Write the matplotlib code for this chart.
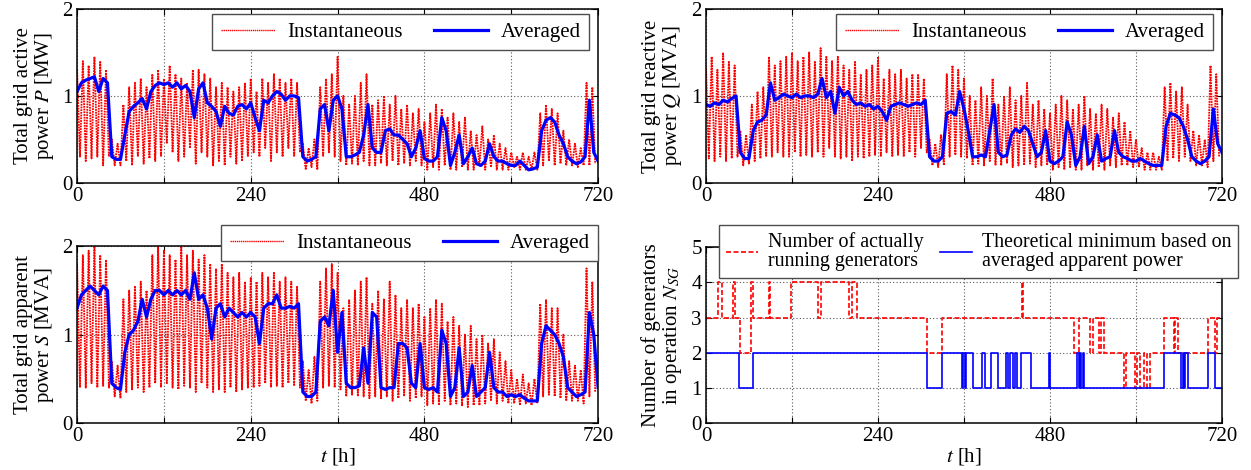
import matplotlib
matplotlib.use("Agg")
import matplotlib.pyplot as plt
import numpy as np

plt.rcParams['font.family'] = ['Liberation Serif', 'DejaVu Serif']
plt.rcParams['mathtext.fontset'] = 'stix'
plt.rcParams['font.size'] = 13

# ---- data (hours, MW / MVA) ----
AVG_STEP = 6     # averaged series sampled every 6 h
INST_STEP = 8    # instantaneous peaks / troughs every 8 h

P_avg = [1.05, 1.15, 1.18, 1.2, 1.22, 1.05, 1.2, 1.15, 0.3, 0.27, 0.27, 0.55, 0.82, 0.88, 0.92, 0.97,
         0.85, 1.05, 1.12, 1.15, 1.13, 1.15, 1.1, 1.15, 1.08, 1.12, 1.05, 0.75, 1.08, 1.15, 0.92, 0.88,
         0.82, 0.65, 0.88, 0.8, 0.78, 0.88, 0.9, 0.85, 0.92, 0.75, 0.6, 0.95, 0.92, 1.0, 1.05, 1.02,
         0.95, 1.0, 1.0, 0.98, 0.3, 0.25, 0.27, 0.3, 0.85, 0.9, 0.6, 0.95, 1.0, 0.85, 0.3, 0.3,
         0.32, 0.35, 0.55, 0.9, 0.4, 0.35, 0.35, 0.6, 0.62, 0.55, 0.55, 0.5, 0.45, 0.3, 0.4, 0.6,
         0.28, 0.25, 0.25, 0.3, 0.75, 0.6, 0.2, 0.35, 0.55, 0.22, 0.3, 0.4, 0.22, 0.2, 0.25, 0.45,
         0.3, 0.25, 0.25, 0.22, 0.2, 0.2, 0.25, 0.2, 0.15, 0.16, 0.18, 0.6, 0.72, 0.75, 0.7, 0.55,
         0.45, 0.3, 0.25, 0.22, 0.24, 0.3, 0.95, 0.35, 0.25]
P_hi = [1.3, 1.4, 1.35, 1.45, 1.4, 1.3,
        0.5, 0.45,
        0.9, 1.1, 1.15, 1.2, 1.1, 1.25,
        1.3, 1.2, 1.35, 1.25, 1.2, 1.15, 1.3, 1.3, 1.25,
        1.2, 1.1, 1.15, 1.1, 1.05, 1.1, 1.15,
        1.2, 1.05, 1.2, 1.15, 1.25, 1.2, 1.15, 1.2, 1.15,
        0.45, 0.4, 0.5,
        1.1, 1.2, 1.25, 1.45,
        1.0, 0.9, 1.0, 1.15, 1.25,
        0.9, 0.95, 1.0, 0.9, 1.0, 0.85, 0.9, 0.8, 0.85,
        0.7, 0.8, 0.9, 0.85, 0.75, 0.8, 0.7, 0.75, 0.6, 0.55,
        0.65, 0.5, 0.55, 0.45, 0.4, 0.35, 0.3, 0.35, 0.3, 0.35,
        0.8, 0.9, 0.85, 0.8, 0.6, 0.5, 0.45, 0.4,
        1.15, 1.1]
P_lo = [0.3, 0.25, 0.28, 0.3, 0.2, 0.3,
        0.2, 0.2,
        0.25, 0.2, 0.3, 0.22, 0.28, 0.25,
        0.3, 0.45, 0.35, 0.25, 0.3, 0.4, 0.22, 0.35, 0.3,
        0.2, 0.25, 0.2, 0.3, 0.22, 0.25, 0.3,
        0.35, 0.3, 0.4, 0.25, 0.35, 0.3, 0.4, 0.3, 0.35,
        0.15, 0.18, 0.15,
        0.3, 0.35, 0.3, 0.25,
        0.2, 0.22, 0.2, 0.25, 0.2,
        0.2, 0.22, 0.2, 0.25, 0.2, 0.22, 0.2, 0.25, 0.2,
        0.15, 0.18, 0.15, 0.2, 0.15, 0.15, 0.18, 0.15, 0.15, 0.2,
        0.15, 0.18, 0.15, 0.15, 0.15, 0.18, 0.15, 0.15, 0.15, 0.15,
        0.2, 0.25, 0.2, 0.22, 0.2, 0.2, 0.18, 0.2,
        0.2, 0.22]

Q_avg = [0.9, 0.88, 0.92, 0.9, 0.95, 0.93, 0.97, 1.0, 0.35, 0.28, 0.28, 0.6, 0.7, 0.72, 0.78, 1.15,
         0.95, 0.98, 1.02, 1.0, 0.98, 1.02, 0.98, 1.0, 1.0, 0.98, 1.02, 1.2, 0.98, 1.05, 0.8, 1.1,
         1.0, 1.05, 0.95, 0.9, 0.92, 0.88, 0.9, 0.85, 0.88, 0.82, 0.72, 0.88, 0.9, 0.92, 0.9, 0.88,
         0.9, 0.92, 0.9, 0.95, 0.3, 0.25, 0.25, 0.3, 0.8, 0.82, 0.78, 1.05, 0.85, 0.6, 0.3, 0.3,
         0.32, 0.3, 0.6, 0.9, 0.35, 0.3, 0.32, 0.55, 0.62, 0.58, 0.65, 0.6, 0.45, 0.3, 0.35, 0.6,
         0.25, 0.22, 0.25, 0.3, 0.7, 0.55, 0.2, 0.3, 0.65, 0.22, 0.3, 0.55, 0.25, 0.28, 0.3, 0.6,
         0.35, 0.3, 0.28, 0.25, 0.25, 0.28, 0.25, 0.22, 0.2, 0.2, 0.2, 0.65, 0.8, 0.78, 0.75, 0.65,
         0.5, 0.3, 0.25, 0.22, 0.25, 0.3, 0.85, 0.45, 0.35]
Q_hi = [1.35, 1.45, 1.3, 1.5, 1.4, 1.35,
        0.6, 0.55,
        0.9, 1.05, 1.1, 1.45, 1.35, 1.4,
        1.45, 1.5, 1.4, 1.45, 1.5, 1.4, 1.55, 1.45, 1.4,
        1.45, 1.35, 1.3, 1.4, 1.25, 1.3, 1.35,
        1.45, 1.2, 1.3, 1.25, 1.3, 1.2, 1.25, 1.25, 1.2,
        0.5, 0.45, 0.55,
        1.25, 1.35, 1.3, 1.2,
        1.0, 0.95, 1.1, 1.0, 1.2,
        0.9, 1.0, 1.1, 0.95, 1.0, 1.15, 0.9, 0.95, 0.85,
        0.8, 0.9, 1.0, 0.95, 0.85, 0.9, 1.0, 0.85, 0.8, 0.9,
        0.85, 0.75, 0.8, 0.7, 0.6, 0.5, 0.4, 0.35, 0.35, 0.3,
        1.1, 1.15, 1.05, 1.1, 0.9, 0.6, 0.55, 0.5,
        1.35, 1.25]
Q_lo = [0.28, 0.25, 0.3, 0.25, 0.28, 0.3,
        0.2, 0.22,
        0.25, 0.28, 0.3, 0.3, 0.35, 0.3,
        0.3, 0.35, 0.3, 0.32, 0.3, 0.35, 0.3, 0.4, 0.3,
        0.28, 0.3, 0.25, 0.3, 0.28, 0.3, 0.32,
        0.3, 0.35, 0.3, 0.32, 0.3, 0.35, 0.3, 0.4, 0.35,
        0.2, 0.18, 0.2,
        0.3, 0.32, 0.3, 0.28,
        0.2, 0.22, 0.2, 0.25, 0.2,
        0.2, 0.22, 0.18, 0.2, 0.2, 0.22, 0.18, 0.2, 0.2,
        0.15, 0.18, 0.15, 0.18, 0.15, 0.15, 0.2, 0.15, 0.18, 0.15,
        0.2, 0.18, 0.2, 0.2, 0.18, 0.18, 0.15, 0.15, 0.15, 0.15,
        0.25, 0.28, 0.25, 0.3, 0.25, 0.2, 0.2, 0.18,
        0.25, 0.3]

S_avg = [1.3, 1.45, 1.5, 1.55, 1.5, 1.45, 1.55, 1.5, 0.45, 0.4, 0.38, 0.8, 1.0, 1.05, 1.15, 1.4,
         1.2, 1.4, 1.5, 1.5, 1.45, 1.5, 1.45, 1.5, 1.45, 1.5, 1.4, 1.7, 1.4, 1.45, 1.3, 0.95,
         1.3, 1.35, 1.2, 1.3, 1.25, 1.2, 1.25, 1.2, 1.25, 1.2, 0.9, 1.3, 1.35, 1.35, 1.45, 1.3,
         1.3, 1.32, 1.3, 1.35, 0.35, 0.3, 0.3, 0.35, 1.15, 1.2, 1.1, 1.5, 0.8, 1.25, 0.45, 0.4,
         0.4, 0.42, 0.85, 0.45, 1.25, 1.2, 0.4, 0.38, 0.4, 0.4, 0.9, 0.9, 0.85, 0.45, 0.4, 0.9,
         0.4, 0.38, 0.4, 0.35, 1.05, 0.9, 0.3, 0.4, 0.85, 0.3, 0.35, 0.65, 0.3, 0.35, 0.4, 0.8,
         0.4, 0.35, 0.35, 0.3, 0.32, 0.3, 0.32, 0.28, 0.25, 0.25, 0.25, 0.9, 1.1, 1.05, 1.0, 0.9,
         0.75, 0.4, 0.35, 0.3, 0.32, 0.35, 1.25, 1.0, 0.4]
S_hi = [1.8, 1.9, 1.95, 2.0, 1.9, 1.85,
        0.7, 0.65,
        1.4, 1.5, 1.55, 1.6, 1.5, 1.9,
        2.0, 1.95, 1.9, 1.85, 2.0, 1.9, 1.95, 1.85, 1.9,
        1.8, 1.75, 1.8, 1.7, 1.65, 1.7, 1.6,
        1.65, 1.6, 1.7, 1.65, 1.7, 1.6, 1.65, 1.6, 1.55,
        0.7, 0.6, 0.75,
        1.6, 1.75, 1.8, 1.7,
        1.3, 1.4, 1.5, 1.6, 1.65,
        1.35, 1.5, 1.4, 1.6, 1.45, 1.3, 1.4, 1.3, 1.35,
        1.2, 1.3, 1.4, 1.35, 1.15, 1.2, 1.1, 1.0, 1.1, 0.95,
        1.0, 0.9, 0.95, 0.8, 0.7, 0.6, 0.5, 0.55, 0.45, 0.5,
        1.35, 1.4, 1.3, 1.3, 1.0, 0.7, 0.65, 0.6,
        1.75, 1.6]
S_lo = [0.4, 0.4, 0.45, 0.4, 0.42, 0.4,
        0.3, 0.28,
        0.35, 0.38, 0.4, 0.35, 0.4, 0.45,
        0.4, 0.45, 0.4, 0.38, 0.42, 0.4, 0.35, 0.45, 0.4,
        0.35, 0.38, 0.35, 0.4, 0.35, 0.38, 0.4,
        0.4, 0.42, 0.45, 0.4, 0.42, 0.4, 0.45, 0.42, 0.4,
        0.25, 0.22, 0.25,
        0.4, 0.42, 0.4, 0.38,
        0.3, 0.32, 0.3, 0.3, 0.28,
        0.3, 0.28, 0.3, 0.25, 0.28, 0.3, 0.25, 0.28, 0.3,
        0.2, 0.22, 0.2, 0.25, 0.2, 0.22, 0.2, 0.18, 0.2, 0.2,
        0.22, 0.25, 0.22, 0.25, 0.22, 0.22, 0.2, 0.22, 0.2, 0.22,
        0.3, 0.32, 0.3, 0.28, 0.25, 0.25, 0.25, 0.22,
        0.3, 0.35]

# generator counts: switching instants [h] and count from that instant on
gen_act_t = [0, 17, 22, 38, 41, 47, 63, 66, 88, 90, 119, 157, 160, 200, 204, 211, 309, 330, 441, 443,
             514, 521, 536, 540, 548, 551, 555, 583, 586, 599, 602, 606, 611, 616, 620, 639, 653, 655,
             658, 700, 710, 713, 720]
gen_act_n = [3, 4, 3, 4, 3, 2, 4, 3, 4, 3, 4, 3, 4, 3, 4, 3, 2, 3, 4, 3,
             2, 3, 2, 3, 2, 3, 2, 1, 2, 1, 2, 1, 2, 1, 2, 3, 2, 3,
             2, 3, 2, 3, 3]
gen_min_t = [0, 46, 65, 309, 330, 357, 359, 361, 363, 372, 385, 390, 398, 408, 418, 421, 424, 428, 431,
             434, 440, 453, 478, 480, 518, 520, 522, 524, 526, 528, 639, 663, 665, 667, 669, 672, 700,
             710, 720]
gen_min_n = [2, 1, 2, 1, 2, 1, 2, 1, 2, 1, 2, 1, 2, 1, 2, 1, 2, 1, 2,
             1, 2, 1, 2, 1, 2, 1, 2, 1, 2, 1, 2, 1, 2, 1, 2, 1, 2,
             1, 1]

RED = '#ff0000'
BLUE = '#0000ff'
X_TICKS = [0, 120, 240, 360, 480, 600, 720]
X_LABELS = ['0', '', '240', '', '480', '', '720']


def style_axes(ax, ymax, yticks):
    ax.set_xlim(0, 720)
    ax.set_ylim(0, ymax)
    ax.set_xticks(X_TICKS)
    ax.set_xticklabels(X_LABELS)
    ax.set_yticks(yticks)
    ax.grid(True, color='0.35', linestyle=(0, (1, 2)), linewidth=0.8)
    ax.tick_params(direction='in', top=True, right=True, length=4, labelsize=15, pad=3)
    for sp in ax.spines.values():
        sp.set_linewidth(1.1)


def power_panel(ax, avg, hi, lo, ylabel, legend_anchor):
    # instantaneous: peaks at 8k h, troughs half a step later
    t_inst = []
    v_inst = []
    for k in range(len(hi)):
        t_inst += [k * INST_STEP, k * INST_STEP + INST_STEP / 2]
        v_inst += [hi[k], lo[k]]
    ax.plot(t_inst, v_inst, color=RED, linestyle=(0, (1.0, 0.5)), linewidth=1.3,
            label='Instantaneous')
    t_avg = np.arange(len(avg)) * AVG_STEP
    ax.plot(t_avg, avg, color=BLUE, linewidth=2.3, label='Averaged')
    style_axes(ax, 2, [0, 1, 2])
    ax.set_ylabel(ylabel, fontsize=15, linespacing=1.0, labelpad=5)
    leg = ax.legend(loc='upper right', bbox_to_anchor=legend_anchor, ncol=2, fontsize=15,
                    frameon=True, fancybox=False, edgecolor='0.3', framealpha=1,
                    handlelength=2.6, columnspacing=1.5, borderpad=0.4,
                    handletextpad=0.6, borderaxespad=0)
    leg.get_frame().set_linewidth(1.0)
    for h in leg.get_lines()[:1]:
        h.set_linewidth(1.0)


fig = plt.figure(figsize=(12.51, 4.70), dpi=100)
ax1 = fig.add_axes([0.0616, 0.611, 0.4165, 0.37])
ax2 = fig.add_axes([0.5643, 0.611, 0.4125, 0.37])
ax3 = fig.add_axes([0.0616, 0.100, 0.4165, 0.376])
ax4 = fig.add_axes([0.5643, 0.100, 0.4125, 0.374])

power_panel(ax1, P_avg, P_hi, P_lo, 'Total grid active\npower $P$ [MW]', (0.983, 0.97))
power_panel(ax2, Q_avg, Q_hi, Q_lo, 'Total grid reactive\npower $Q$ [MVA]', (0.983, 0.97))
power_panel(ax3, S_avg, S_hi, S_lo, 'Total grid apparent\npower $S$ [MVA]', (1.0, 1.12))
ax3.set_xlabel('$t$ [h]', fontsize=15, labelpad=0)

ax4.step(gen_act_t, gen_act_n, where='post', color=RED, linestyle=(0, (3, 1.5)),
         linewidth=1.2, label='Number of actually\nrunning generators')
ax4.step(gen_min_t, gen_min_n, where='post', color=BLUE, linewidth=1.2,
         label='Theoretical minimum based on\naveraged apparent power')
style_axes(ax4, 5, [0, 1, 2, 3, 4, 5])
ax4.set_ylabel('Number of generators\nin operation $N_{SG}$', fontsize=15, linespacing=1.0, labelpad=5)
ax4.set_xlabel('$t$ [h]', fontsize=15, labelpad=0)
leg = ax4.legend(loc='upper right', bbox_to_anchor=(1.032, 1.125), ncol=2, fontsize=14.4,
                 frameon=True, fancybox=False, edgecolor='0.3', framealpha=1,
                 handlelength=1.6, columnspacing=0.8, borderpad=0.35, handletextpad=0.5,
                 labelspacing=0.2, borderaxespad=0)
leg.get_frame().set_linewidth(1.0)
for t in leg.get_texts():
    t.set_linespacing(1.0)

fig.savefig('out.png', dpi=100)
